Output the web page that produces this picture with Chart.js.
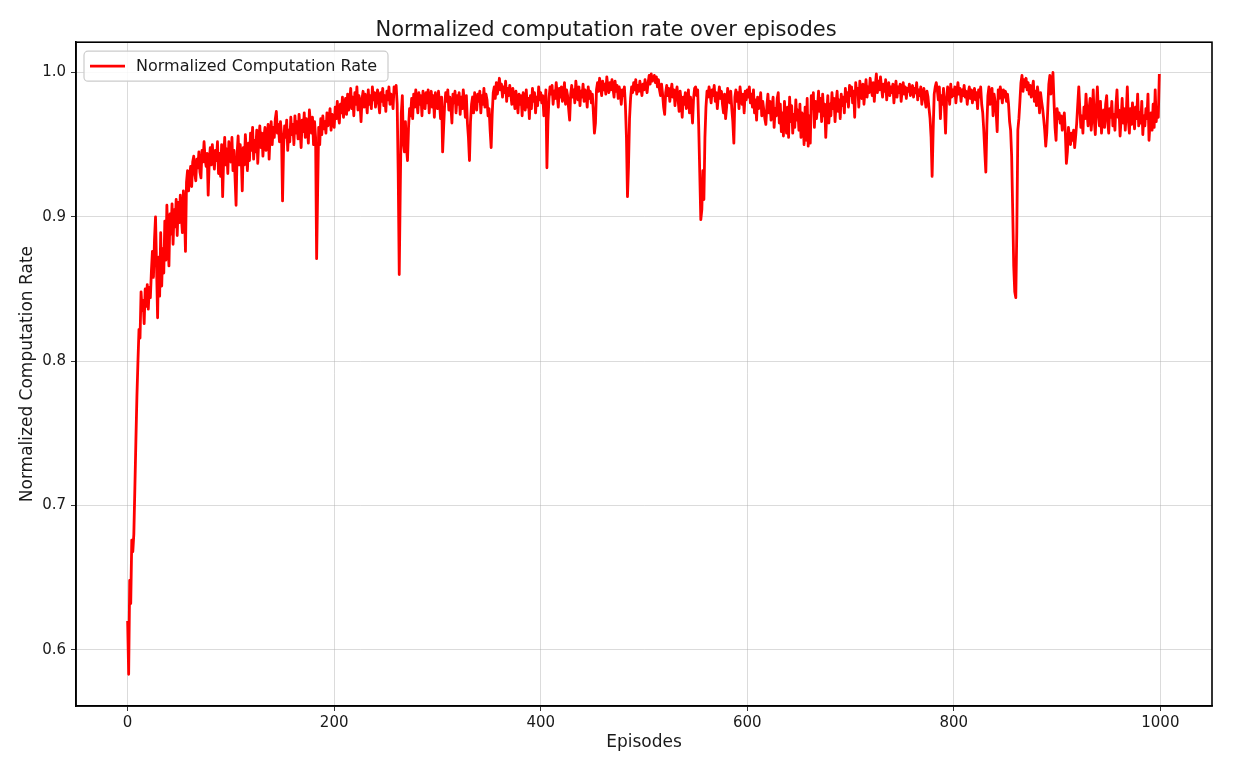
<!DOCTYPE html>
<html>
<head>
<meta charset="utf-8">
<script src="https://cdn.jsdelivr.net/npm/chart.js@4.4.1/dist/chart.umd.min.js"></script>
<style>
  html, body { margin: 0; padding: 0; background: #ffffff; }
  #c { display: block; }
</style>
</head>
<body>
<canvas id="c" width="1234" height="771" style="width:1234px;height:771px"></canvas>
<script>
// ---- Data ----
const chartTitle = 'Normalized computation rate over episodes';
const seriesLabel = 'Normalized Computation Rate';
const xAxisLabel = 'Episodes';
const yAxisLabel = 'Normalized Computation Rate';
const xTickValues = [0, 200, 400, 600, 800, 1000];
const yTickValues = [0.6, 0.7, 0.8, 0.9, 1.0];

// normalized computation rate, one value per episode (0..999)
const rate = [
  // 0-99
  .620,.583,.648,.632,.676,.668,.680,.712,.745,.776,
  .800,.822,.816,.848,.835,.842,.826,.850,.838,.853,
  .836,.851,.844,.862,.876,.858,.884,.900,.866,.830,
  .872,.845,.889,.852,.878,.861,.897,.870,.908,.884,
  .866,.902,.888,.909,.881,.905,.893,.912,.887,.910,
  .896,.915,.901,.889,.918,.905,.876,.924,.932,.918,
  .928,.935,.921,.938,.942,.930,.925,.940,.934,.945,
  .931,.927,.946,.938,.952,.940,.935,.944,.915,.938,
  .948,.936,.950,.941,.933,.946,.939,.952,.930,.944,
  .928,.950,.914,.941,.955,.936,.947,.930,.952,.943,
  // 100-199
  .938,.955,.932,.946,.927,.908,.944,.956,.936,.950,
  .941,.918,.948,.936,.957,.944,.932,.951,.939,.958,
  .946,.962,.940,.953,.945,.960,.937,.954,.963,.948,
  .958,.942,.955,.962,.946,.951,.964,.940,.957,.966,
  .950,.962,.955,.968,.973,.958,.964,.952,.966,.957,
  .911,.948,.963,.955,.967,.946,.960,.952,.969,.957,
  .964,.950,.970,.958,.966,.954,.971,.960,.948,.967,
  .959,.972,.955,.968,.962,.951,.974,.965,.958,.969,
  .950,.966,.955,.871,.918,.962,.950,.968,.957,.970,
  .961,.966,.958,.972,.963,.968,.975,.960,.971,.966,
  // 200-299
  .962,.976,.968,.980,.970,.965,.978,.972,.983,.969,
  .976,.982,.971,.985,.974,.980,.989,.975,.983,.970,
  .986,.978,.990,.974,.984,.979,.966,.982,.987,.976,
  .985,.980,.972,.988,.978,.984,.975,.990,.981,.986,
  .976,.983,.988,.979,.972,.986,.980,.989,.977,.984,
  .973,.987,.981,.990,.978,.985,.982,.975,.990,.986,
  .991,.978,.930,.860,.920,.972,.984,.951,.945,.966,
  .948,.939,.962,.975,.970,.982,.968,.985,.976,.988,
  .980,.972,.986,.978,.984,.970,.987,.981,.975,.986,
  .979,.988,.972,.983,.987,.976,.984,.969,.986,.980,
  // 300-399
  .975,.987,.979,.968,.983,.945,.962,.978,.986,.980,
  .988,.974,.983,.977,.965,.985,.979,.987,.972,.984,
  .978,.986,.971,.983,.975,.988,.980,.969,.984,.965,
  .955,.939,.966,.978,.983,.972,.986,.979,.974,.985,
  .980,.987,.972,.984,.978,.989,.976,.985,.981,.970,
  .975,.960,.948,.971,.986,.990,.982,.993,.985,.990,
  .996,.988,.992,.983,.990,.986,.994,.980,.989,.984,
  .991,.985,.978,.989,.982,.975,.987,.980,.972,.985,
  .978,.984,.970,.986,.979,.974,.988,.976,.982,.968,
  .984,.975,.989,.980,.986,.972,.983,.977,.990,.981,
  // 400-499
  .986,.979,.984,.970,.975,.988,.934,.966,.982,.990,
  .985,.991,.978,.987,.982,.993,.984,.976,.989,.983,
  .990,.980,.986,.993,.978,.988,.984,.975,.967,.985,
  .991,.983,.988,.979,.994,.986,.981,.990,.977,.987,
  .983,.992,.980,.988,.985,.976,.990,.982,.987,.979,
  .985,.972,.958,.965,.988,.993,.987,.996,.990,.984,
  .994,.988,.992,.985,.997,.990,.986,.993,.988,.995,
  .989,.983,.994,.987,.991,.982,.990,.986,.978,.988,
  .984,.990,.977,.955,.914,.935,.968,.982,.990,.986,
  .993,.988,.995,.985,.991,.987,.994,.989,.984,.992,
  // 500-599
  .988,.995,.990,.986,.993,.998,.992,.999,.994,.996,
  .998,.993,.997,.990,.995,.988,.984,.992,.985,.976,
  .971,.986,.991,.984,.989,.980,.987,.992,.983,.988,
  .977,.986,.990,.981,.973,.987,.980,.969,.983,.978,
  .986,.975,.980,.988,.972,.983,.976,.965,.982,.989,
  .990,.984,.988,.962,.930,.898,.905,.932,.912,.955,
  .976,.987,.983,.990,.985,.979,.988,.984,.991,.980,
  .986,.975,.984,.990,.982,.987,.978,.972,.985,.968,
  .976,.989,.983,.979,.987,.975,.966,.951,.983,.988,
  .980,.986,.975,.990,.983,.978,.985,.972,.987,.981,
  // 600-699
  .988,.983,.990,.979,.985,.976,.988,.972,.981,.967,
  .983,.975,.978,.986,.970,.980,.974,.968,.964,.977,
  .985,.972,.980,.967,.976,.983,.962,.975,.970,.982,
  .986,.965,.978,.959,.972,.956,.980,.968,.958,.976,
  .955,.983,.966,.977,.958,.971,.962,.981,.967,.974,
  .960,.978,.955,.972,.968,.950,.976,.953,.982,.949,
  .970,.951,.984,.975,.986,.962,.980,.968,.975,.987,
  .973,.982,.966,.985,.970,.978,.955,.972,.984,.965,
  .978,.970,.986,.975,.982,.966,.979,.987,.973,.981,
  .968,.985,.977,.983,.972,.989,.980,.986,.976,.991,
  // 700-799
  .984,.990,.979,.987,.969,.993,.985,.989,.976,.994,
  .987,.982,.992,.978,.988,.995,.983,.990,.986,.996,
  .989,.984,.993,.980,.991,.999,.986,.994,.988,.997,
  .990,.983,.992,.987,.995,.981,.989,.993,.984,.990,
  .986,.992,.979,.988,.994,.983,.990,.986,.992,.980,
  .988,.993,.985,.990,.982,.989,.987,.992,.984,.988,
  .991,.983,.989,.986,.993,.981,.988,.984,.990,.978,
  .985,.989,.982,.976,.987,.983,.975,.968,.955,.928,
  .960,.985,.990,.993,.988,.981,.990,.968,.984,.978,
  .989,.975,.958,.982,.990,.986,.978,.992,.983,.988,
  // 800-899
  .984,.990,.979,.987,.993,.985,.989,.980,.988,.984,
  .991,.983,.987,.978,.986,.990,.982,.988,.979,.985,
  .989,.981,.986,.975,.988,.983,.990,.978,.972,.960,
  .945,.931,.963,.984,.990,.978,.986,.989,.970,.985,
  .980,.972,.959,.988,.982,.990,.985,.979,.988,.983,
  .987,.980,.985,.978,.966,.960,.942,.905,.866,.848,
  .844,.890,.960,.968,.980,.993,.998,.987,.995,.990,
  .996,.988,.993,.985,.991,.983,.989,.994,.980,.987,
  .977,.990,.984,.972,.986,.980,.975,.968,.960,.949,
  .958,.975,.992,.998,.985,.990,1.00,.980,.962,.953,
  // 900-999
  .975,.968,.972,.965,.970,.960,.967,.972,.958,.937,
  .945,.962,.955,.950,.958,.953,.960,.948,.956,.965,
  .978,.990,.975,.962,.970,.958,.976,.968,.985,.972,
  .963,.975,.982,.960,.970,.988,.967,.957,.975,.990,
  .972,.963,.980,.958,.969,.974,.962,.978,.984,.966,
  .958,.975,.969,.980,.963,.971,.960,.977,.988,.969,
  .974,.956,.968,.982,.965,.975,.960,.972,.990,.967,
  .958,.975,.964,.979,.970,.961,.976,.968,.985,.963,
  .972,.965,.980,.957,.970,.963,.975,.968,.985,.953,
  .965,.972,.960,.978,.962,.988,.966,.975,.969,.999
];

// ---- Styling ----
const FONT = "'DejaVu Sans', 'Noto Sans', sans-serif";
const TEXT = '#1a1a1a';
const GRID = 'rgba(176,176,176,0.45)';

const points = rate.map((v, i) => ({ x: i, y: v }));

const framePlugin = {
  id: 'frame',
  afterDraw(chart) {
    const { ctx, chartArea: a } = chart;
    ctx.save();
    ctx.strokeStyle = '#000';
    ctx.lineWidth = 1.6;
    ctx.strokeRect(a.left, a.top, a.right - a.left, a.bottom - a.top);
    ctx.restore();
  }
};

const insideLegend = {
  id: 'insideLegend',
  afterDraw(chart) {
    const { ctx, chartArea: a } = chart;
    const ds = chart.data.datasets[0];
    const x = a.left + 8, y = a.top + 9, w = 304, h = 30, r = 4;
    ctx.save();
    ctx.beginPath();
    ctx.moveTo(x + r, y);
    ctx.arcTo(x + w, y, x + w, y + h, r);
    ctx.arcTo(x + w, y + h, x, y + h, r);
    ctx.arcTo(x, y + h, x, y, r);
    ctx.arcTo(x, y, x + w, y, r);
    ctx.closePath();
    ctx.fillStyle = 'rgba(255,255,255,0.85)';
    ctx.fill();
    ctx.strokeStyle = '#cccccc';
    ctx.lineWidth = 1.2;
    ctx.stroke();
    ctx.beginPath();
    ctx.moveTo(x + 6, y + h / 2);
    ctx.lineTo(x + 41, y + h / 2);
    ctx.strokeStyle = ds.borderColor;
    ctx.lineWidth = 2.8;
    ctx.stroke();
    ctx.fillStyle = TEXT;
    ctx.font = "16px " + FONT;
    ctx.textBaseline = 'middle';
    ctx.textAlign = 'left';
    ctx.fillText(ds.label, x + 52, y + h / 2 + 1);
    ctx.restore();
  }
};

new Chart(document.getElementById('c'), {
  type: 'line',
  data: {
    datasets: [{
      label: seriesLabel,
      data: points,
      borderColor: '#ff0000',
      backgroundColor: '#ff0000',
      borderWidth: 2.8,
      borderJoinStyle: 'round',
      pointRadius: 0,
      tension: 0,
      fill: false
    }]
  },
  options: {
    responsive: false,
    animation: false,
    devicePixelRatio: 1,
    events: [],
    layout: { padding: { left: 0, right: 22, top: 0, bottom: 0 } },
    plugins: {
      legend: { display: false },
      tooltip: { enabled: false },
      title: {
        display: true,
        text: chartTitle,
        color: TEXT,
        font: { family: FONT, size: 21, weight: 'normal' },
        padding: { top: 18, bottom: -1 }
      }
    },
    scales: {
      x: {
        type: 'linear',
        min: -50,
        max: 1050,
        afterBuildTicks: s => { s.ticks = xTickValues.map(v => ({ value: v })); },
        afterFit: s => { s.height = 65; },
        ticks: {
          color: TEXT,
          font: { family: FONT, size: 15 },
          padding: 3,
          maxRotation: 0,
          autoSkip: false,
          callback: v => String(v)
        },
        grid: { color: GRID, lineWidth: 1, tickColor: '#333', tickLength: 5, drawTicks: true },
        border: { display: true, color: '#000', width: 1.6 },
        title: {
          display: true,
          text: xAxisLabel,
          color: TEXT,
          font: { family: FONT, size: 17 },
          padding: { top: 4, bottom: 18 }
        }
      },
      y: {
        type: 'linear',
        min: 0.561,
        max: 1.021,
        afterBuildTicks: s => { s.ticks = yTickValues.map(v => ({ value: v })); },
        afterFit: s => { s.width = 76; },
        ticks: {
          color: TEXT,
          font: { family: FONT, size: 15 },
          padding: 5,
          autoSkip: false,
          callback: v => Number(v).toFixed(1)
        },
        grid: { color: GRID, lineWidth: 1, tickColor: '#333', tickLength: 5, drawTicks: true },
        border: { display: true, color: '#000', width: 1.6 },
        title: {
          display: true,
          text: yAxisLabel,
          color: TEXT,
          font: { family: FONT, size: 17 },
          padding: { top: 17, bottom: 4 }
        }
      }
    }
  },
  plugins: [framePlugin, insideLegend]
});
</script>
</body>
</html>
